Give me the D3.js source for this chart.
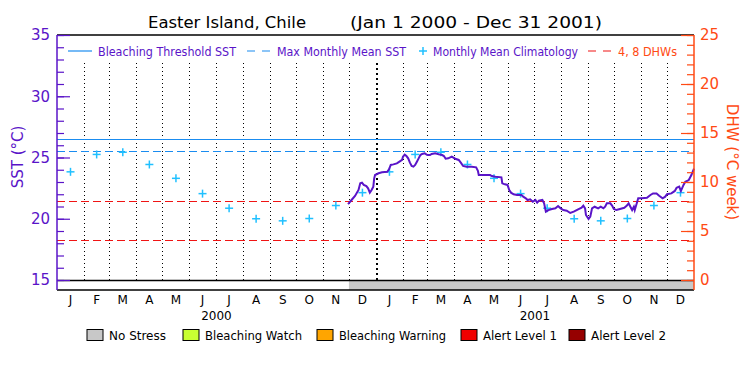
<!DOCTYPE html>
<html>
<head>
<meta charset="utf-8">
<script src="https://cdn.jsdelivr.net/npm/d3@7"></script>
<style>
    body { margin: 0; background: #fff; }
    svg text { font-family: "DejaVu Sans", sans-serif; }
</style>
</head>
<body>
<svg id="chart" width="750" height="375"></svg>
<script>
// Chart values
const monthLetters = ['J', 'F', 'M', 'A', 'M', 'J', 'J', 'A', 'S', 'O', 'N', 'D'];
const years = [2000, 2001];
const climatology = [23.83, 25.25, 25.43, 24.43, 23.30, 22.05, 20.86, 20.00, 19.83, 20.02, 21.08, 22.13];
const maxMonthlyMean = 25.45;
const bleachingThreshold = 26.45;
const dhwLevels = [4, 8];
const sstTicks = [15, 20, 25, 30, 35];
const dhwTicks = [0, 5, 10, 15, 20, 25];

// days since Jan 1 2000 and the SST for that day
const sstDays = [334, 338, 342, 346, 348, 350, 352, 355, 357, 359, 361, 363, 364, 365, 369, 373, 379, 381, 383, 386,
    390, 393, 396, 397, 399, 401, 403, 405, 407, 409, 411, 413, 415, 417, 419, 422, 425, 428, 430, 434,
    438, 442, 444, 446, 449, 453, 457, 461, 464, 466, 470, 476, 481, 483, 484, 491, 497, 499, 503, 510,
    511, 514, 517, 519, 521, 524, 528, 533, 535, 538, 540, 543, 546, 549, 551, 553, 557, 559, 561, 564,
    568, 572, 575, 578, 581, 585, 589, 593, 598, 602, 604, 606, 607, 610, 612, 614, 617, 621, 624, 627,
    629, 631, 635, 637, 639, 642, 646, 651, 654, 656, 658, 660, 662, 663, 665, 667, 671, 677, 681, 684,
    688, 691, 695, 698, 700, 705, 709, 711, 714, 716, 719, 721, 725, 728, 731];
const sstValues = [21.20, 21.53, 21.86, 22.35, 22.89, 22.94, 22.76, 22.67, 22.48, 22.13, 22.35, 22.62, 23.30, 23.57, 23.71, 23.79, 23.84, 24.04, 24.39, 24.44,
    24.52, 24.66, 24.80, 25.07, 25.23, 25.12, 24.93, 24.58, 24.31, 24.25, 24.39, 24.66, 24.93, 25.20, 25.29, 25.34, 25.20, 25.20, 25.29, 25.34,
    25.26, 25.20, 25.12, 24.90, 24.93, 25.07, 24.90, 24.80, 24.52, 24.31, 24.25, 24.25, 24.20, 23.92, 23.57, 23.57, 23.57, 23.49, 23.43, 23.38,
    22.89, 22.81, 22.76, 22.35, 22.13, 22.00, 21.94, 21.94, 21.80, 21.67, 21.53, 21.59, 21.39, 21.53, 21.31, 21.47, 21.53, 21.26, 20.58, 20.71,
    20.80, 20.85, 21.04, 20.85, 20.71, 20.66, 20.47, 20.58, 20.77, 20.90, 21.07, 20.85, 20.31, 19.98, 20.17, 20.85, 20.98, 20.85, 20.98, 20.85,
    20.98, 21.26, 21.26, 21.07, 20.80, 20.71, 20.80, 20.90, 21.07, 21.26, 20.98, 20.71, 20.98, 20.71, 21.18, 21.67, 21.67, 21.72, 21.94, 22.07,
    22.07, 21.88, 21.67, 21.80, 22.00, 22.07, 22.27, 22.53, 22.62, 22.27, 22.76, 23.02, 23.16, 23.57, 24.10];

// stress bar: No Stress from Dec 1 2000 onward
const stressPeriods = [{ start: new Date(2000, 11, 1), end: new Date(2002, 0, 1), level: 0 }];
const stressNames = ['No Stress', 'Bleaching Watch', 'Bleaching Warning', 'Alert Level 1', 'Alert Level 2'];
const stressColors = ['#c8c8c8', '#c8ff32', '#ffa500', '#f00000', '#960000'];

const purple = '#5a14c8';
const orange = '#ff4a14';
const blue = '#1a8cf0';
const cyan = '#20c0ff';
const red = '#f01414';

const svg = d3.select('#chart');
const plotLeft = 57, plotRight = 694, plotTop = 35, plotBottom = 280, barBottom = 290;

const x = d3.scaleTime().domain([new Date(2000, 0, 1), new Date(2002, 0, 1)]).range([plotLeft, plotRight]);
const ySst = d3.scaleLinear().domain([15, 35]).range([plotBottom, plotTop]);
const yDhw = d3.scaleLinear().domain([0, 25]).range([plotBottom, plotTop]);
const dayToDate = d => new Date(2000, 0, 1 + d);

// title
svg.append('text').attr('x', 148).attr('y', 28).attr('font-size', 16)
    .attr('textLength', 158).attr('lengthAdjust', 'spacingAndGlyphs')
    .text('Easter Island, Chile');
svg.append('text').attr('x', 350).attr('y', 28).attr('font-size', 16)
    .attr('textLength', 252).attr('lengthAdjust', 'spacingAndGlyphs')
    .text('(Jan 1 2000 - Dec 31 2001)');

// month boundaries (dotted), year boundary a bit heavier
const boundaries = d3.timeMonth.range(new Date(2000, 1, 1), new Date(2002, 0, 1));
svg.append('g')
    .selectAll('line')
    .data(boundaries)
    .enter()
    .append('line')
    .attr('x1', d => Math.round(x(d)) + 0.5)
    .attr('x2', d => Math.round(x(d)) + 0.5)
    .attr('y1', 63)
    .attr('y2', plotBottom)
    .attr('stroke', '#000')
    .attr('shape-rendering', 'crispEdges')
    .attr('stroke-width', d => d.getMonth() === 0 ? 2 : 1)
    .attr('stroke-dasharray', d => d.getMonth() === 0 ? '2,3' : '1,3');

// reference lines
const refLines = svg.append('g').attr('shape-rendering', 'crispEdges');
refLines.append('line').attr('x1', plotLeft).attr('x2', plotRight)
    .attr('y1', ySst(bleachingThreshold)).attr('y2', ySst(bleachingThreshold))
    .attr('stroke', blue).attr('stroke-width', 1);
refLines.append('line').attr('x1', plotLeft).attr('x2', plotRight)
    .attr('y1', ySst(maxMonthlyMean)).attr('y2', ySst(maxMonthlyMean))
    .attr('stroke', blue).attr('stroke-width', 1).attr('stroke-dasharray', '8,4');
refLines.selectAll('line.dhw')
    .data(dhwLevels)
    .enter()
    .append('line')
    .attr('class', 'dhw')
    .attr('x1', plotLeft).attr('x2', plotRight)
    .attr('y1', d => yDhw(d)).attr('y2', d => yDhw(d))
    .attr('stroke', red).attr('stroke-width', 1).attr('stroke-dasharray', '8,4');

// monthly mean climatology, both years
const climPoints = [];
years.forEach(yr => {
    climatology.forEach((v, m) => {
        const mid = new Date((new Date(yr, m, 1).getTime() + new Date(yr, m + 1, 1).getTime()) / 2);
        climPoints.push({ date: mid, value: v });
    });
});
const plus = svg.append('g').selectAll('g').data(climPoints).enter().append('g')
    .attr('transform', d => `translate(${x(d.date)},${ySst(d.value)})`);
plus.append('line').attr('x1', -4).attr('x2', 4).attr('stroke', cyan).attr('stroke-width', 1.5);
plus.append('line').attr('y1', -4).attr('y2', 4).attr('stroke', cyan).attr('stroke-width', 1.5);

// SST line
const sstData = sstDays.map((d, i) => ({ date: dayToDate(d), value: sstValues[i] }));
svg.append('path')
    .datum(sstData)
    .attr('fill', 'none')
    .attr('stroke', purple)
    .attr('stroke-width', 2)
    .attr('d', d3.line().x(d => x(d.date)).y(d => ySst(d.value)));

// stress bar
svg.append('rect').attr('x', plotLeft).attr('y', plotBottom).attr('width', plotRight - plotLeft).attr('height', barBottom - plotBottom)
    .attr('fill', '#fff');
svg.append('g')
    .selectAll('rect')
    .data(stressPeriods)
    .enter()
    .append('rect')
    .attr('x', d => x(d.start))
    .attr('width', d => x(d.end) - x(d.start))
    .attr('y', plotBottom)
    .attr('height', barBottom - plotBottom)
    .attr('fill', d => stressColors[d.level]);
svg.append('line').attr('x1', plotLeft).attr('x2', plotRight).attr('y1', plotBottom + 0.5).attr('y2', plotBottom + 0.5)
    .attr('stroke', '#000').attr('stroke-width', 1.5);
svg.append('line').attr('x1', plotLeft).attr('x2', plotRight).attr('y1', barBottom).attr('y2', barBottom)
    .attr('stroke', '#000').attr('stroke-width', 1.5);
// top frame
svg.append('line').attr('x1', plotLeft).attr('x2', plotRight).attr('y1', plotTop).attr('y2', plotTop)
    .attr('stroke', '#000').attr('stroke-width', 1.5);

// left SST axis
const leftAxis = svg.append('g').attr('transform', `translate(${plotLeft},0)`);
leftAxis.call(d3.axisLeft(ySst).tickValues(d3.range(15, 36)).tickSize(-7).tickFormat(''));
leftAxis.append('g').call(d3.axisLeft(ySst).tickValues(sstTicks).tickSize(-13).tickPadding(7).tickFormat(d3.format('d')));
leftAxis.selectAll('.domain').remove();
leftAxis.selectAll('line').attr('stroke', purple).attr('stroke-width', 1.2);
leftAxis.selectAll('text').attr('fill', purple).attr('font-size', 15)
    .attr('font-family', '"DejaVu Sans", sans-serif');
svg.append('line').attr('x1', plotLeft).attr('x2', plotLeft).attr('y1', plotTop).attr('y2', barBottom)
    .attr('stroke', purple).attr('stroke-width', 1.5);
svg.append('text')
    .attr('transform', 'translate(23,157) rotate(-90)')
    .attr('text-anchor', 'middle')
    .attr('fill', purple)
    .attr('font-size', 15)
    .text('SST (°C)');

// right DHW axis
const rightAxis = svg.append('g').attr('transform', `translate(${plotRight},0)`);
rightAxis.call(d3.axisRight(yDhw).tickValues(d3.range(0, 26)).tickSize(-7).tickFormat(''));
rightAxis.append('g').call(d3.axisRight(yDhw).tickValues(dhwTicks).tickSize(-13).tickPadding(6).tickFormat(d3.format('d')));
rightAxis.selectAll('.domain').remove();
rightAxis.selectAll('line').attr('stroke', orange).attr('stroke-width', 1.2);
rightAxis.selectAll('text').attr('fill', orange).attr('font-size', 15)
    .attr('font-family', '"DejaVu Sans", sans-serif');
svg.append('line').attr('x1', plotRight).attr('x2', plotRight).attr('y1', plotTop).attr('y2', barBottom)
    .attr('stroke', orange).attr('stroke-width', 1.5);
svg.append('text')
    .attr('transform', 'translate(727,162) rotate(90)')
    .attr('text-anchor', 'middle')
    .attr('fill', orange)
    .attr('font-size', 15)
    .text('DHW (°C week)');

// month and year labels
const monthStarts = d3.timeMonth.range(new Date(2000, 0, 1), new Date(2002, 0, 1));
svg.append('g')
    .selectAll('text')
    .data(monthStarts)
    .enter()
    .append('text')
    .attr('x', d => (x(d) + x(d3.timeMonth.offset(d, 1))) / 2)
    .attr('y', 304)
    .attr('text-anchor', 'middle')
    .attr('font-size', 12)
    .text(d => monthLetters[d.getMonth()]);
svg.append('g')
    .selectAll('text')
    .data(years)
    .enter()
    .append('text')
    .attr('x', d => (x(new Date(d, 0, 1)) + x(new Date(d + 1, 0, 1))) / 2)
    .attr('y', 319.5)
    .attr('text-anchor', 'middle')
    .attr('font-size', 12)
    .text(d => d);

// legend inside the plot
const legY = 51;
svg.append('line').attr('x1', 68).attr('x2', 92).attr('y1', legY).attr('y2', legY)
    .attr('stroke', blue).attr('stroke-width', 1.2);
svg.append('line').attr('x1', 247).attr('x2', 270).attr('y1', legY).attr('y2', legY)
    .attr('stroke', blue).attr('stroke-width', 1.2).attr('stroke-dasharray', '8,7');
svg.append('line').attr('x1', 419).attr('x2', 427).attr('y1', legY).attr('y2', legY)
    .attr('stroke', cyan).attr('stroke-width', 1.5);
svg.append('line').attr('x1', 423).attr('x2', 423).attr('y1', legY - 4).attr('y2', legY + 4)
    .attr('stroke', cyan).attr('stroke-width', 1.5);
svg.append('line').attr('x1', 588).attr('x2', 611).attr('y1', legY).attr('y2', legY)
    .attr('stroke', red).attr('stroke-width', 1.2).attr('stroke-dasharray', '8,7');
const legendTexts = [
    { text: 'Bleaching Threshold SST', x: 98, w: 138, color: purple },
    { text: 'Max Monthly Mean SST', x: 277, w: 129, color: purple },
    { text: 'Monthly Mean Climatology', x: 433, w: 145, color: purple },
    { text: '4, 8 DHWs', x: 618, w: 59, color: orange }
];
svg.append('g')
    .selectAll('text')
    .data(legendTexts)
    .enter()
    .append('text')
    .attr('x', d => d.x)
    .attr('y', legY + 4.5)
    .attr('font-size', 12)
    .attr('fill', d => d.color)
    .attr('textLength', d => d.w)
    .attr('lengthAdjust', 'spacingAndGlyphs')
    .text(d => d.text);

// stress key at the bottom
const keyX = [87, 183, 317, 461, 569];
const keyW = [57, 97, 107, 74, 75];
const key = svg.append('g')
    .selectAll('g')
    .data(stressNames)
    .enter()
    .append('g')
    .attr('transform', (d, i) => `translate(${keyX[i]},329.5)`);
key.append('rect')
    .attr('width', 16)
    .attr('height', 11)
    .attr('fill', (d, i) => stressColors[i])
    .attr('stroke', '#000');
key.append('text')
    .attr('x', 22)
    .attr('y', 10)
    .attr('font-size', 12)
    .attr('textLength', (d, i) => keyW[i])
    .attr('lengthAdjust', 'spacingAndGlyphs')
    .text(d => d);
</script>
</body>
</html>
